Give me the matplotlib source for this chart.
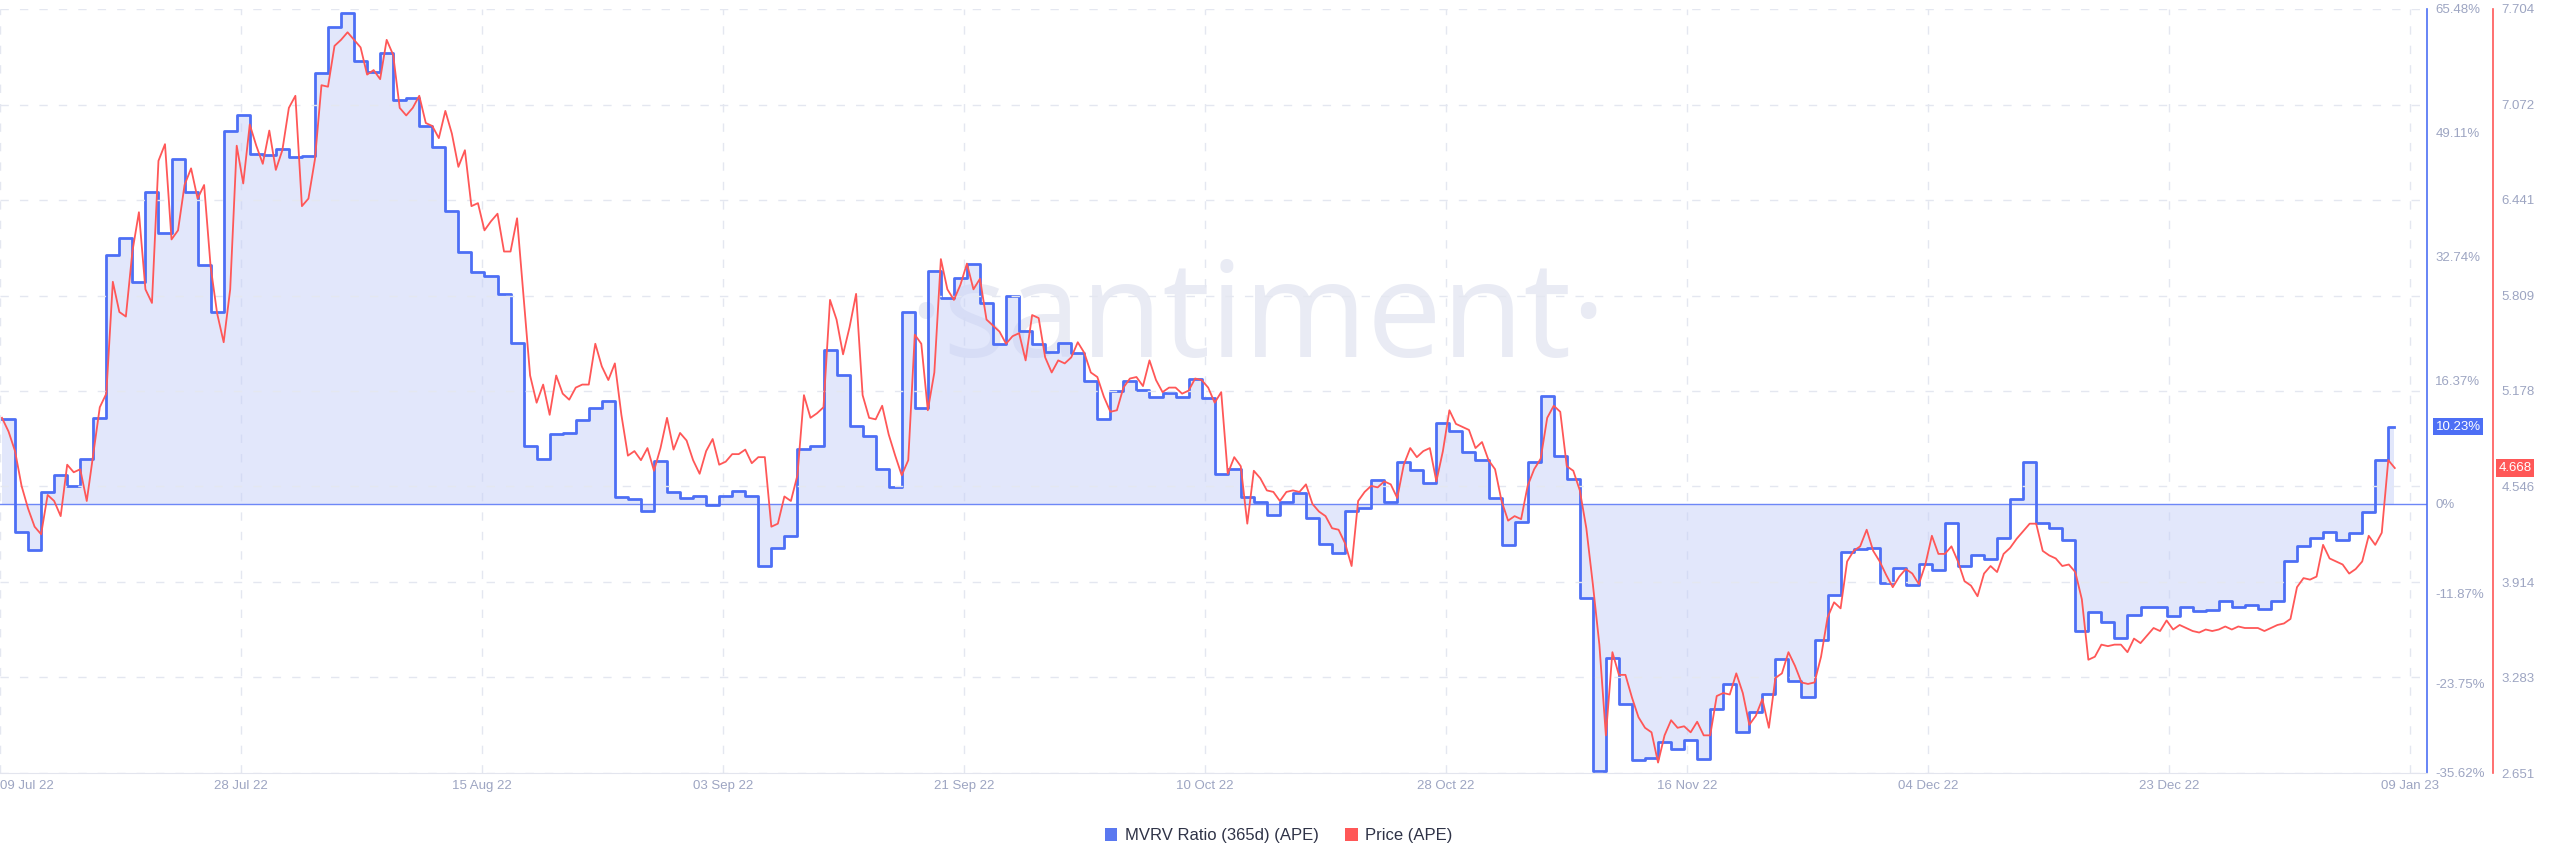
import numpy as np
import pandas as pd
import matplotlib
matplotlib.use('Agg')
import matplotlib.pyplot as plt
from matplotlib.patches import Patch

# MVRV ratio (365d), daily values in %, starting 09 Jul 22
mvrv = [11.2, -3.7, -6.1, 1.5, 3.8, 2.3, 5.9, 11.3, 32.9, 35.2,
        29.3, 41.2, 35.9, 45.6, 41.3, 31.6, 25.4, 49.4, 51.5, 46.3,
        46.1, 47.0, 45.9, 46.0, 57.0, 63.1, 64.9, 58.6, 57.2, 59.7,
        53.4, 53.7, 50.0, 47.2, 38.8, 33.3, 30.7, 30.2, 27.7, 21.3,
        7.6, 5.9, 9.3, 9.4, 11.1, 12.7, 13.6, 0.9, 0.6, -1.0,
        5.7, 1.6, 0.8, 1.1, -0.2, 1.0, 1.7, 1.1, -8.2, -5.9,
        -4.2, 7.2, 7.7, 20.4, 17.0, 10.3, 9.0, 4.6, 2.2, 25.4,
        12.7, 30.8, 27.3, 29.9, 31.8, 26.6, 21.1, 27.5, 22.9, 21.2,
        20.1, 21.3, 19.9, 16.3, 11.2, 14.9, 16.3, 15.1, 14.2, 14.6,
        14.1, 16.5, 14.0, 4.0, 4.6, 0.9, 0.3, -1.5, 0.3, 1.4,
        -1.9, -5.3, -6.5, -0.9, -0.6, 3.2, 0.3, 5.6, 4.5, 2.7,
        10.7, 9.7, 6.9, 5.8, 0.8, -5.4, -2.4, 5.5, 14.3, 6.3,
        3.3, -12.4, -35.3, -20.4, -26.5, -33.9, -33.7, -31.5, -32.4, -31.3,
        -33.8, -27.2, -23.8, -30.2, -27.5, -25.2, -20.5, -23.4, -25.6, -18.0,
        -12.0, -6.4, -6.0, -5.9, -10.5, -8.5, -10.7, -8.0, -8.7, -2.6,
        -8.2, -6.8, -7.3, -4.5, 0.6, 5.5, -2.6, -3.2, -4.8, -16.8,
        -14.3, -15.7, -17.7, -14.7, -13.7, -13.7, -14.8, -13.6, -14.2, -14.1,
        -12.8, -13.6, -13.4, -13.9, -12.9, -7.5, -5.6, -4.5, -3.7, -4.8,
        -3.9, -1.1, 5.8, 10.23]

# APE price, every 12 hours, starting 09 Jul 22
price = [5.00, 4.91, 4.78, 4.55, 4.40, 4.28, 4.23, 4.49, 4.45, 4.35,
         4.69, 4.64, 4.66, 4.45, 4.76, 5.07, 5.16, 5.90, 5.70, 5.67,
         6.10, 6.36, 5.85, 5.76, 6.70, 6.81, 6.18, 6.24, 6.54, 6.65,
         6.45, 6.54, 6.00, 5.69, 5.50, 5.85, 6.80, 6.55, 6.94, 6.80,
         6.68, 6.90, 6.64, 6.77, 7.05, 7.13, 6.40, 6.45, 6.71, 7.20,
         7.19, 7.46, 7.50, 7.55, 7.50, 7.45, 7.27, 7.30, 7.24, 7.50,
         7.40, 7.05, 7.00,
         7.05, 7.13, 6.95, 6.93, 6.85, 7.03, 6.88, 6.66, 6.77, 6.40,
         6.42, 6.24, 6.30, 6.35, 6.10, 6.10, 6.32, 5.80, 5.28, 5.10,
         5.22, 5.02, 5.28, 5.16, 5.12, 5.20, 5.22, 5.22, 5.49, 5.34,
         5.25, 5.36, 5.02, 4.75, 4.78, 4.72, 4.80, 4.65, 4.80, 5.00,
         4.79, 4.90, 4.85, 4.72, 4.63, 4.78, 4.86, 4.69, 4.71, 4.76,
         4.76, 4.79, 4.70, 4.74, 4.74, 4.28, 4.30, 4.48, 4.45, 4.62,
         5.15,
         5.00, 5.03, 5.07, 5.78, 5.65, 5.42, 5.60, 5.82, 5.15, 5.00,
         4.99, 5.08, 4.89, 4.75, 4.62, 4.72, 5.55, 5.49, 5.05, 5.30,
         6.05, 5.85, 5.78, 5.88, 6.02, 5.85, 5.92, 5.65, 5.61, 5.57,
         5.49, 5.54, 5.56, 5.38, 5.68, 5.66, 5.40, 5.30, 5.38, 5.36,
         5.40, 5.50, 5.43, 5.30, 5.27, 5.14, 5.04, 5.05, 5.20, 5.26,
         5.27, 5.21, 5.38, 5.25, 5.17, 5.20, 5.20, 5.16, 5.18, 5.26,
         5.25, 5.20,
         5.10, 5.17, 4.63, 4.74, 4.68, 4.30, 4.65, 4.60, 4.52, 4.51,
         4.45, 4.51, 4.52, 4.51, 4.56, 4.43, 4.38, 4.35, 4.27, 4.26,
         4.17, 4.02, 4.45, 4.51, 4.55, 4.54, 4.58, 4.56, 4.47, 4.69,
         4.80, 4.74, 4.78, 4.80, 4.58, 4.78, 5.05, 4.96, 4.94, 4.92,
         4.80, 4.84, 4.72, 4.66, 4.45, 4.32, 4.35, 4.33, 4.55, 4.66,
         4.73, 5.00, 5.08, 5.04, 4.68, 4.65, 4.52, 4.27, 3.90, 3.50,
         2.90, 3.45, 3.30,
         3.30, 3.15, 3.02, 2.95, 2.92, 2.72, 2.90, 3.00, 2.95, 2.96,
         2.92, 2.99, 2.90, 2.90, 3.16, 3.18, 3.17, 3.31, 3.18, 2.97,
         3.03, 3.14, 2.95, 3.28, 3.31, 3.45, 3.36, 3.25, 3.24, 3.25,
         3.42, 3.68, 3.78, 3.74, 4.05, 4.12, 4.15, 4.26, 4.12, 4.05,
         3.96, 3.88, 3.95, 4.00, 3.97, 3.90, 4.03, 4.22, 4.10, 4.10,
         4.15, 4.05, 3.92, 3.89, 3.82, 3.97, 4.02, 3.98, 4.10, 4.14,
         4.20, 4.25, 4.30, 4.30, 4.12, 4.09, 4.07, 4.02, 4.03, 3.98,
         3.80, 3.40, 3.42, 3.50, 3.49, 3.50, 3.50, 3.45, 3.54, 3.51,
         3.56, 3.61, 3.59, 3.66, 3.60, 3.63, 3.61, 3.59, 3.58, 3.60,
         3.59, 3.60, 3.62, 3.60, 3.62, 3.61, 3.61, 3.61, 3.59, 3.61,
         3.63, 3.64, 3.67, 3.88, 3.94, 3.93, 3.95, 4.16, 4.07, 4.05,
         4.03, 3.97, 4.00, 4.05, 4.22, 4.16, 4.24, 4.72, 4.668]

mvrv_ticks = [65.48, 49.11, 32.74, 16.37, 0, -11.87, -23.75, -35.62]
mvrv_tick_labels = ['65.48%', '49.11%', '32.74%', '16.37%', '0%', '-11.87%', '-23.75%', '-35.62%']
price_ticks = [7.704, 7.072, 6.441, 5.809, 5.178, 4.546, 3.914, 3.283, 2.651]
date_labels = ['09 Jul 22', '28 Jul 22', '15 Aug 22', '03 Sep 22', '21 Sep 22', '10 Oct 22',
               '28 Oct 22', '16 Nov 22', '04 Dec 22', '23 Dec 22', '09 Jan 23']

BLUE = '#4d6ff5'
RED = '#ff5757'
TICK_C = '#9da5c2'
GRID_C = '#e4e7f0'

mvrv_dates = pd.date_range('2022-07-09', periods=len(mvrv), freq='D')
price_dates = pd.date_range('2022-07-09', periods=len(price), freq='12h')
# last daily step is only partly drawn
mvrv_x = mvrv_dates.append(pd.DatetimeIndex([mvrv_dates[-1] + pd.Timedelta(hours=10)]))
mvrv_y = mvrv + [mvrv[-1]]

x_start = pd.Timestamp('2022-07-09') - pd.Timedelta(days=0.153)
x_end = pd.Timestamp('2022-07-09') + pd.Timedelta(days=185.97)
tick_pos = [x_start + pd.Timedelta(days=18.48 * i) for i in range(len(date_labels))]

plt.rcParams['font.family'] = ['Liberation Sans', 'DejaVu Sans']

fig = plt.figure(figsize=(25.6, 8.67), dpi=100)
ax = fig.add_axes([0, 1 - 773 / 867, 2427 / 2560, 764 / 867])
ax2 = ax.twinx()

# watermark
ax.text(0.518, 0.59, '·santiment·', transform=ax.transAxes, ha='center', va='center',
        fontsize=96, color='#e9ebf4', family=['Open Sans', 'DejaVu Sans'], zorder=0)

# MVRV step + fill
ax.fill_between(mvrv_x, mvrv_y, 0, step='post', color='#c6d0f8', alpha=0.5, lw=0, zorder=1)
ax.axhline(0, color='#6d87f7', lw=1.0, zorder=2)
ax.step(mvrv_x, mvrv_y, where='post', color=BLUE, lw=2.0, zorder=3)

ax.set_xlim(x_start, x_end)
ax.set_ylim(-35.62, 65.48)
ax.set_xticks(tick_pos)
ax.set_xticklabels(date_labels)
ax.get_xticklabels()[0].set_ha('left')
ax.yaxis.tick_right()
ax.set_yticks(mvrv_ticks)
ax.set_yticklabels(mvrv_tick_labels)
ax.tick_params(axis='y', which='both', left=False, labelleft=False, right=False,
               labelright=True, length=0, pad=6, labelsize=9.5, labelcolor=TICK_C)
ax.tick_params(axis='x', length=0, pad=5, labelsize=9.5, labelcolor=TICK_C)
ax.xaxis.grid(True, ls=(0, (6, 8)), color=GRID_C, lw=1)
ax.set_axisbelow(True)
for s in ['top', 'left']:
    ax.spines[s].set_visible(False)
ax.spines['bottom'].set_color('#e3e5ee')
ax.spines['right'].set_color(BLUE)
ax.spines['right'].set_linewidth(1.2)

# Price on second axis
ax2.plot(price_dates, price, color=RED, lw=1.3, zorder=4)
ax2.set_ylim(2.651, 7.704)
ax2.set_yticks(price_ticks)
ax2.set_yticklabels([f'{v:.3f}' for v in price_ticks])
ax2.tick_params(axis='y', length=0, pad=6, labelsize=9.5, labelcolor=TICK_C)
ax2.yaxis.grid(True, ls=(0, (6, 8)), color=GRID_C, lw=1, zorder=0)
ax2.set_axisbelow(True)
for s in ['top', 'left', 'bottom']:
    ax2.spines[s].set_visible(False)
ax2.spines['right'].set_position(('outward', 47.5))
ax2.spines['right'].set_color(RED)
ax2.spines['right'].set_linewidth(1.2)

# last-value badges
ax.text(1.0035, mvrv[-1], f'{mvrv[-1]:.2f}%', transform=ax.get_yaxis_transform(),
        ha='left', va='center', fontsize=9.5, color='white', clip_on=False, zorder=10,
        bbox=dict(boxstyle='square,pad=0.2', fc=BLUE, ec='none'))
ax2.text(1.0295, price[-1], f'{price[-1]:.3f}', transform=ax2.get_yaxis_transform(),
         ha='left', va='center', fontsize=9.5, color='white', clip_on=False, zorder=10,
         bbox=dict(boxstyle='square,pad=0.2', fc=RED, ec='none'))

handles = [Patch(facecolor='#5a78f0', edgecolor='none', label='MVRV Ratio (365d) (APE)'),
           Patch(facecolor=RED, edgecolor='none', label='Price (APE)')]
fig.legend(handles=handles, loc='center', bbox_to_anchor=(0.4994, 0.036), ncol=2, frameon=False,
           fontsize=12, handlelength=0.75, handleheight=0.75, handletextpad=0.45,
           columnspacing=1.6, labelcolor='#2f3347')

fig.savefig('out.png', dpi=100)
